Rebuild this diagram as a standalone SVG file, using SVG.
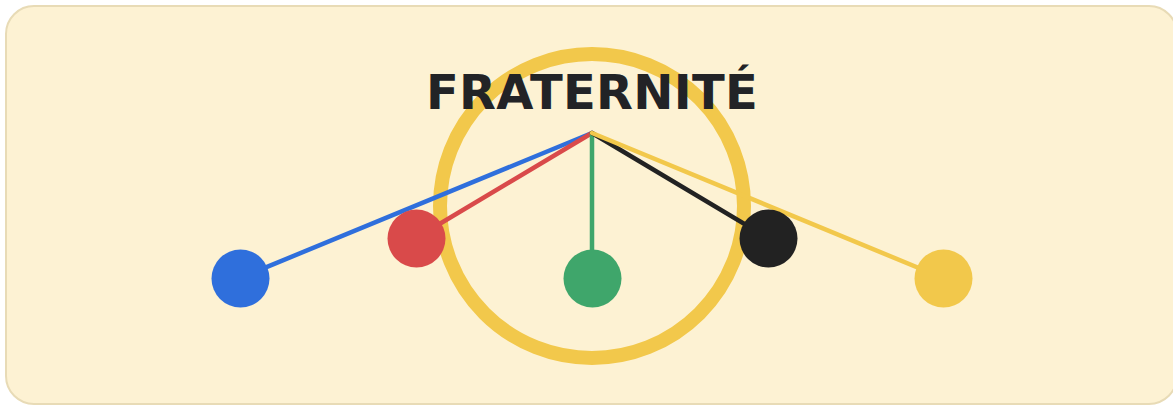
<svg xmlns="http://www.w3.org/2000/svg" width="1173" height="406" viewBox="0 0 1173 406">
<style>
.edge{stroke-width:4.5;stroke-linecap:round;fill:none}
.title{font-family:"DejaVu Sans",sans-serif;font-weight:bold;font-size:48px;letter-spacing:0.3px;fill:#222326;text-anchor:middle}
</style>
<rect x="6" y="6" width="1171" height="398" rx="28" fill="#fdf2d3" stroke="#e8dbb6" stroke-width="2"/>
<g id="ring"><circle cx="592" cy="206" r="152" fill="none" stroke="#f2c84b" stroke-width="14"/></g>
<g id="title"><text class="title" x="592" y="109">FRATERNITÉ</text></g>
<g id="connectors">
<line class="edge" x1="592" y1="133" x2="240" y2="278" stroke="#2f6fdc"/>
<line class="edge" x1="592" y1="133" x2="416" y2="238" stroke="#d94a4a"/>
<line class="edge" x1="592" y1="133" x2="592" y2="278" stroke="#3fa66b"/>
<line class="edge" x1="592" y1="133" x2="768" y2="238" stroke="#222222"/>
<line class="edge" x1="592" y1="133" x2="943" y2="278" stroke="#f2c84b"/>
</g>
<g id="node-blue"><circle cx="240.5" cy="278.5" r="29" fill="#2f6fdc"/></g>
<g id="node-red"><circle cx="416.5" cy="238.5" r="29" fill="#d94a4a"/></g>
<g id="node-green"><circle cx="592.5" cy="278.5" r="29" fill="#3fa66b"/></g>
<g id="node-black"><circle cx="768.5" cy="238.5" r="29" fill="#222222"/></g>
<g id="node-yellow"><circle cx="943.5" cy="278.5" r="29" fill="#f2c84b"/></g>
</svg>
